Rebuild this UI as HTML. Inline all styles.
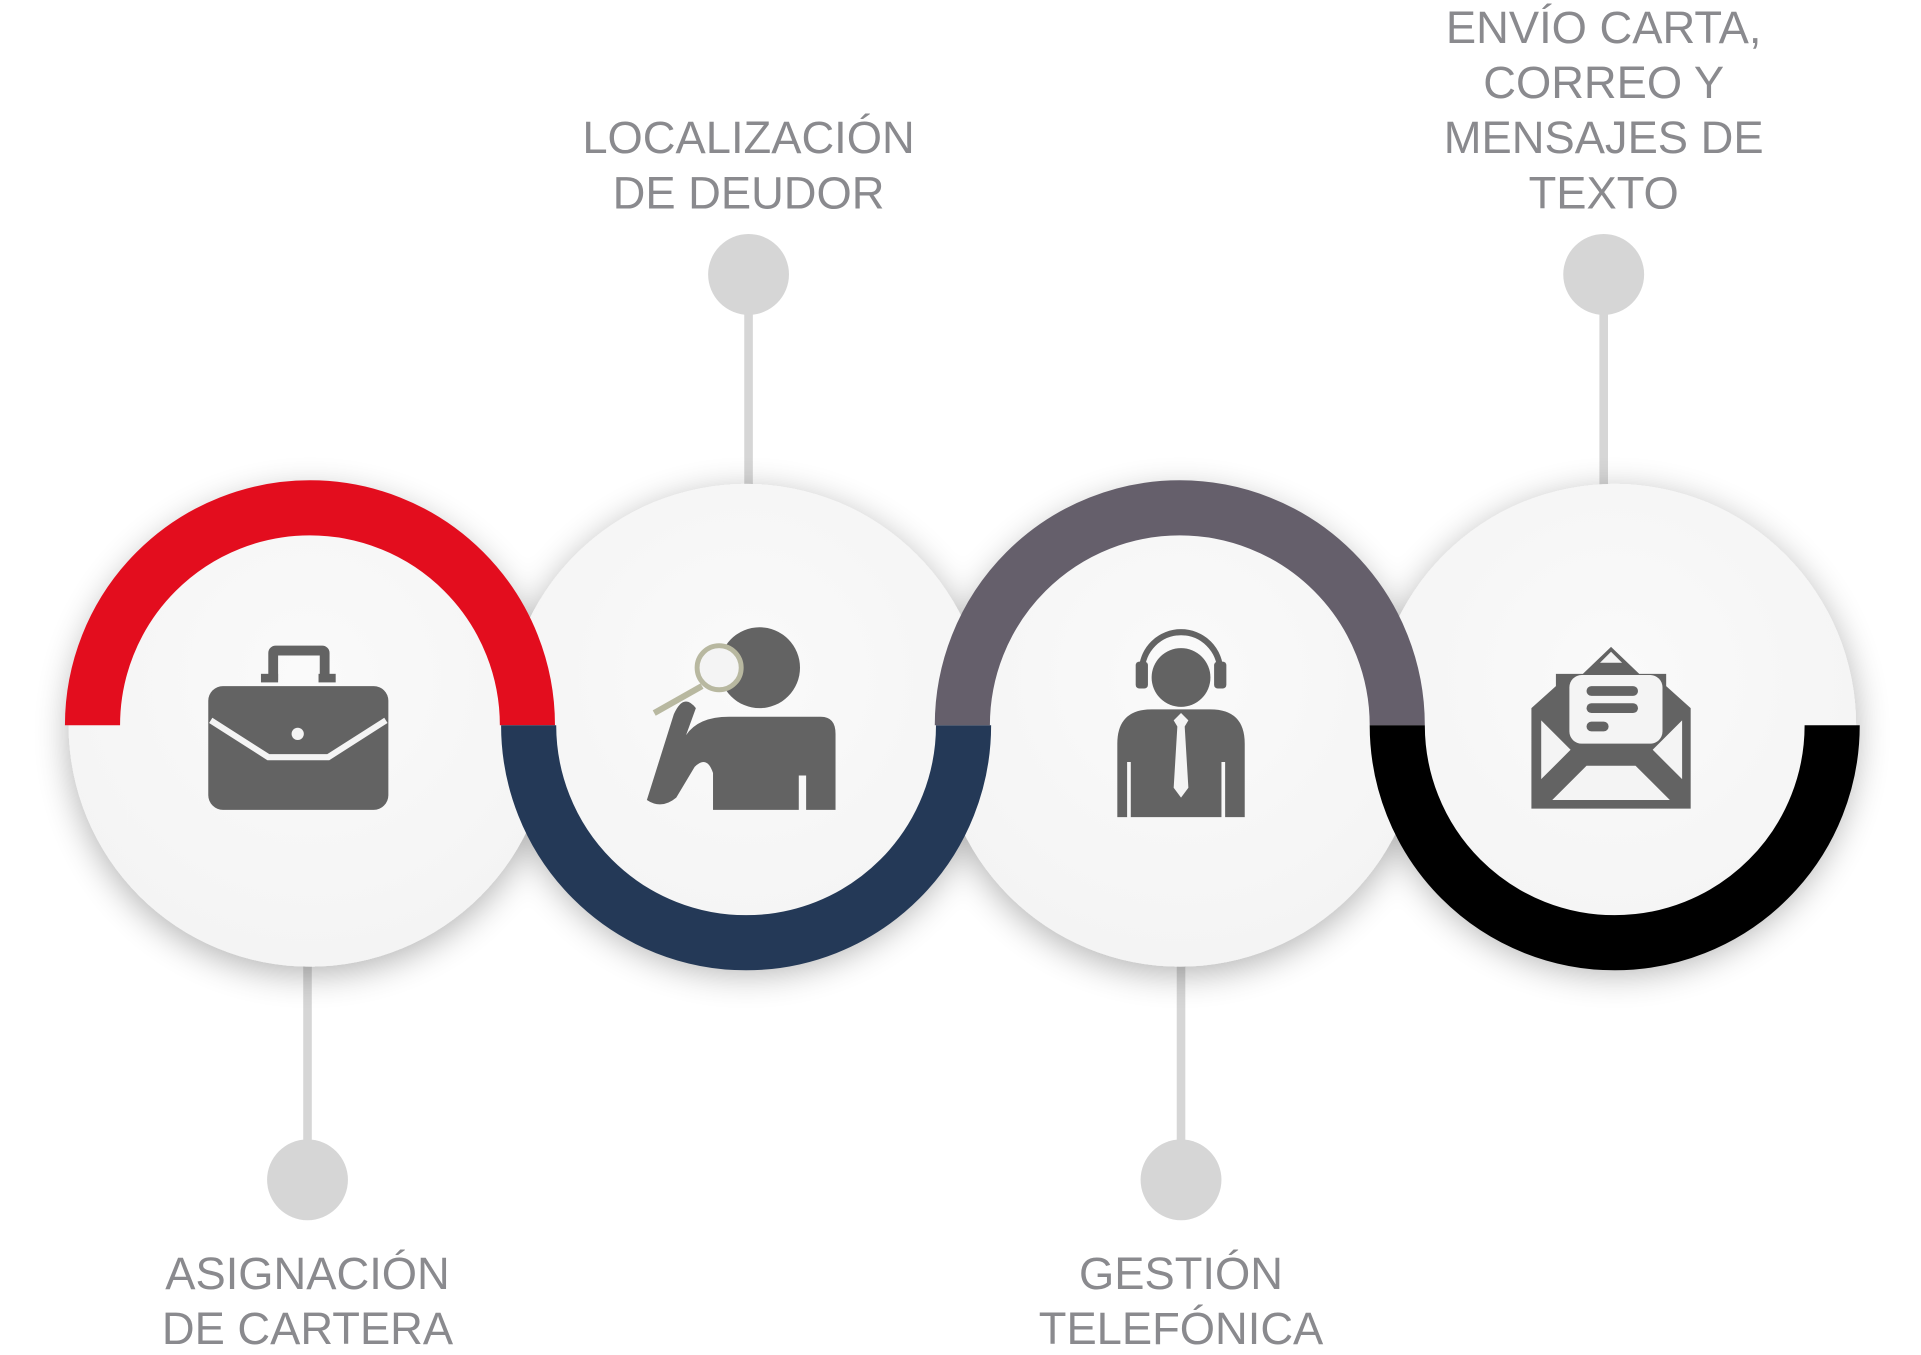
<!DOCTYPE html>
<html><head><meta charset="utf-8"><style>
html,body{margin:0;padding:0;background:#fff;width:1921px;height:1355px;overflow:hidden}
svg{display:block}
text{font-family:"Liberation Sans",sans-serif;fill:#8a8a8e;font-size:37px;text-anchor:middle}
</style></head><body>
<svg width="1921" height="1355" viewBox="0 0 1568 1106" preserveAspectRatio="none">
<defs>
<filter id="sh" x="-30%" y="-30%" width="160%" height="160%"><feGaussianBlur in="SourceAlpha" stdDeviation="14"/><feOffset dy="6"/><feComponentTransfer><feFuncA type="linear" slope="0.3"/></feComponentTransfer><feMerge><feMergeNode/><feMergeNode in="SourceGraphic"/></feMerge></filter>
<radialGradient id="g" cx="0.5" cy="0.4" r="0.6"><stop offset="0" stop-color="#fafafa"/><stop offset="1" stop-color="#f4f4f4"/></radialGradient>
</defs>
<g fill="#d6d6d6" stroke="#d6d6d6">
<line x1="611" y1="224" x2="611" y2="400" stroke-width="7"/><circle cx="611" cy="224" r="33" stroke="none"/>
<line x1="1309" y1="224" x2="1309" y2="400" stroke-width="7"/><circle cx="1309" cy="224" r="33" stroke="none"/>
<line x1="251" y1="785" x2="251" y2="963" stroke-width="7"/><circle cx="251" cy="963" r="33" stroke="none"/>
<line x1="964" y1="785" x2="964" y2="963" stroke-width="7"/><circle cx="964" cy="963" r="33" stroke="none"/>
</g>
<g filter="url(#sh)" fill="url(#g)">
<circle cx="253" cy="592" r="197"/>
<circle cx="609" cy="592" r="197"/>
<circle cx="963" cy="592" r="197"/>
<circle cx="1318" cy="592" r="197"/>
</g>
<g fill="none" stroke-width="45">
<path d="M75.5 592 A177.5 177.5 0 0 1 430.5 592" stroke="#e30d1e"/>
<path d="M431.5 592 A177.5 177.5 0 0 0 786.5 592" stroke="#243957"/>
<path d="M785.5 592 A177.5 177.5 0 0 1 1140.5 592" stroke="#655f6b"/>
<path d="M1140.5 592 A177.5 177.5 0 0 0 1495.5 592" stroke="#000"/>
</g>
<g fill="#636363">
<rect x="170" y="560" width="147" height="101" rx="12"/>
<path d="M219 555 v-22 a6 6 0 0 1 6-6 h38 a6 6 0 0 1 6 6 v22 h-8 v-20 h-34 v20z"/>
<rect x="213" y="550" width="14" height="7"/><rect x="260" y="550" width="14" height="7"/>
<path d="M172 588 L219 618 H268 L315 588" fill="none" stroke="#f4f4f4" stroke-width="5"/>
<circle cx="243" cy="599" r="5" fill="#f4f4f4"/>
<circle cx="620" cy="545" r="33"/>
<path d="M560 600 q10-15 35-15 h75 q12 0 12 14 v62 h-24 v-28 h-6 v28 h-70 v-30 q-5-15-15-5 l-15 25 q-12 10-24 2 l22-70 q8-18 18-5z"/>
<circle cx="587" cy="545" r="18" fill="#f4f4f4" stroke="#b8b8a0" stroke-width="4"/>
<line x1="573" y1="560" x2="534" y2="582" stroke="#b8b8a0" stroke-width="5"/>
<circle cx="964" cy="553" r="24"/>
<path d="M932 560 v-12 a32 32 0 0 1 64 0 v12" fill="none" stroke="#636363" stroke-width="5"/>
<rect x="927" y="540" width="10" height="22" rx="3"/><rect x="991" y="540" width="10" height="22" rx="3"/>
<path d="M912 667 v-60 q0-28 28-28 h48 q28 0 28 28 v60 h-16 v-45 h-3 v45 h-74 v-45 h-3 v45z"/>
<path d="M958 588 l6-6 6 6-3 5 3 50-6 8-6-8 3-50z" fill="#f4f4f4"/>
<path d="M1250 578 l20-18 v-10 h22 l23-22 23 22 h22 v10 l20 18 v82 h-130z"/>
<rect x="1281" y="551" width="76" height="56" rx="10" fill="#f4f4f4"/>
<rect x="1295" y="560" width="42" height="8" rx="4"/><rect x="1295" y="574" width="42" height="8" rx="4"/><rect x="1295" y="589" width="18" height="8" rx="4"/>
<path d="M1258 588 l24 24 -24 24z M1373 588 l-24 24 24 24z M1267 653 l28-28 h40 l28 28z M1306 541 l9-9 9 9z" fill="#f4f4f4"/>
</g>
<text x="611" y="125">LOCALIZACIÓN</text>
<text x="611" y="170">DE DEUDOR</text>
<text x="1309" y="35">ENVÍO CARTA,</text>
<text x="1309" y="80">CORREO Y</text>
<text x="1309" y="125">MENSAJES DE</text>
<text x="1309" y="170">TEXTO</text>
<text x="251" y="1052">ASIGNACIÓN</text>
<text x="251" y="1097">DE CARTERA</text>
<text x="964" y="1052">GESTIÓN</text>
<text x="964" y="1097">TELEFÓNICA</text>
</svg>
</body></html>
